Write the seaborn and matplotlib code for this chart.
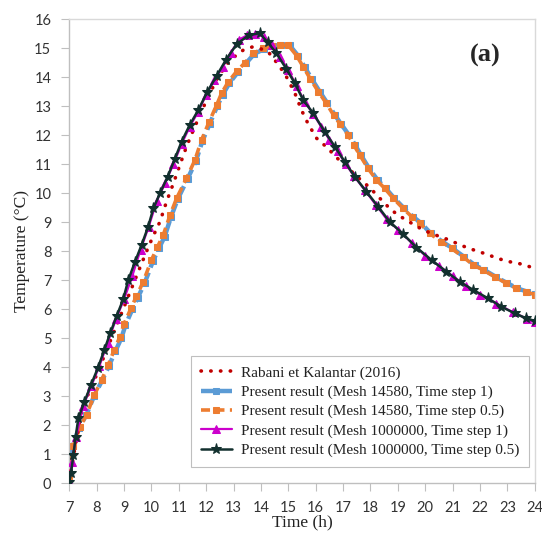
import matplotlib as mpl
mpl.use('agg')
import matplotlib.pyplot as plt
import seaborn as sns

sns.set_style("white")

# Rabani et Kalantar (2016)
t_ref = [7.0, 7.2, 7.45, 7.7, 8.0, 8.3, 8.6, 8.9, 9.2, 9.52, 9.8, 10.05, 10.31, 10.55, 10.8,
         11.04, 11.28, 11.53, 11.77, 12.07, 12.4, 12.75, 13.17, 13.41, 13.7, 14.0, 14.26, 14.45,
         14.7, 14.94, 15.24, 15.48, 15.72, 16.03, 16.39, 16.8, 17.2, 17.6, 17.97, 18.34, 18.7,
         19.0, 19.31, 19.7, 20.2, 20.71, 21.02, 21.32, 21.62, 21.93, 22.23, 22.54, 22.84, 23.08,
         23.39, 23.7, 24.0]
T_ref = [0.1, 1.2, 2.5, 3.1, 3.75, 4.45, 5.15, 5.85, 6.55, 7.3, 7.95, 8.5, 9.02, 9.71, 10.34,
         10.98, 11.61, 12.18, 12.7, 13.33, 13.95, 14.45, 14.83, 14.97, 15.05, 14.98, 14.88, 14.66,
         14.35, 14.0, 13.45, 12.87, 12.4, 11.9, 11.6, 11.2, 10.85, 10.5, 10.2, 9.83, 9.48,
         9.25, 9.08, 8.85, 8.62, 8.45, 8.33, 8.2, 8.1, 7.99, 7.91, 7.79, 7.7, 7.64,
         7.59, 7.5, 7.42]

# Mesh 14580, time step 1
t_m1 = [7.0, 7.02, 7.12, 7.35, 7.62, 7.9, 8.2, 8.45, 8.68, 8.9, 9.05, 9.3, 9.5, 9.75, 10.05,
        10.27, 10.48, 10.72, 10.96, 11.32, 11.62, 11.86, 12.13, 12.4, 12.6, 12.85, 13.15, 13.45,
        13.75, 14.12, 14.45, 14.75, 15.05, 15.35, 15.6, 15.85, 16.15, 16.43, 16.7, 16.92, 17.22,
        17.45, 17.65, 17.95, 18.26, 18.56, 18.87, 19.23, 19.55, 19.85, 20.2, 20.63, 21.0, 21.42,
        21.8, 22.15, 22.58, 23.0, 23.37, 23.72, 24.0]
T_m1 = [0.3, 0.9, 1.3, 1.9, 2.35, 3.0, 3.55, 4.05, 4.55, 5.0, 5.45, 6.0, 6.4, 6.9, 7.65,
        8.1, 8.5, 9.2, 9.8, 10.5, 11.1, 11.8, 12.4, 13.0, 13.4, 13.8, 14.17, 14.48,
        14.8, 14.98, 15.07, 15.12, 15.1, 14.75, 14.35, 13.95, 13.5, 13.1, 12.7, 12.4, 12.0,
        11.65, 11.32, 10.86, 10.46, 10.17, 9.83, 9.48, 9.2, 8.97, 8.62, 8.33, 8.1, 7.81,
        7.53, 7.36, 7.12, 6.9, 6.72, 6.61, 6.52]

# Mesh 14580, time step 0.5
t_m2 = [7.0, 7.03, 7.15, 7.39, 7.63, 7.91, 8.18, 8.42, 8.64, 8.85, 9.0, 9.25, 9.45, 9.7, 10.0,
        10.22, 10.43, 10.68, 10.92, 11.28, 11.59, 11.83, 12.1, 12.38, 12.56, 12.81, 13.11, 13.41,
        13.72, 14.09, 14.4, 14.7, 15.0, 15.3, 15.55, 15.8, 16.1, 16.39, 16.65, 16.88, 17.18,
        17.4, 17.61, 17.91, 18.22, 18.52, 18.83, 19.19, 19.5, 19.8, 20.16, 20.59, 20.96, 21.38,
        21.75, 22.11, 22.54, 22.96, 23.33, 23.69, 24.0]
T_m2 = [0.2, 0.7, 1.3, 1.95, 2.36, 3.04, 3.56, 4.08, 4.6, 5.06, 5.5, 6.03, 6.45, 6.95, 7.7,
        8.15, 8.56, 9.25, 9.83, 10.52, 11.15, 11.84, 12.45, 13.04, 13.45, 13.85, 14.2, 14.5,
        14.83, 15.0, 15.08, 15.12, 15.1, 14.75, 14.35, 13.95, 13.5, 13.1, 12.7, 12.4, 12.01,
        11.65, 11.32, 10.86, 10.46, 10.17, 9.83, 9.48, 9.2, 8.97, 8.62, 8.33, 8.1, 7.81,
        7.53, 7.36, 7.12, 6.9, 6.72, 6.61, 6.5]

# Mesh 1000000, time step 1
t_m3 = [7.0, 7.1, 7.25, 7.5, 7.8, 8.1, 8.4, 8.7, 9.0, 9.3, 9.6, 9.9, 10.2, 10.5, 10.8,
        11.1, 11.4, 11.7, 12.0, 12.3, 12.6, 12.9, 13.2, 13.5, 13.8, 14.1, 14.4, 14.7, 15.0,
        15.3, 15.6, 15.9, 16.2, 16.5, 16.8, 17.1, 17.4, 17.8, 18.2, 18.6, 19.0, 19.5, 20.0,
        20.5, 21.0, 21.5, 22.0, 22.6, 23.2, 23.7, 24.0]
T_m3 = [0.05, 0.75, 1.6, 2.65, 3.35, 4.05, 4.85, 5.65, 6.35, 7.15, 8.05, 8.85, 9.75, 10.35, 11.0,
        11.7, 12.3, 12.8, 13.4, 13.9, 14.35, 14.85, 15.3, 15.45, 15.5, 15.4, 15.1, 14.7, 14.25,
        13.7, 13.15, 12.75, 12.3, 11.85, 11.45, 11.0, 10.6, 10.1, 9.6, 9.1, 8.75, 8.3, 7.85,
        7.5, 7.15, 6.8, 6.5, 6.2, 5.9, 5.68, 5.55]

# Mesh 1000000, time step 0.5
t_m4 = [7.0, 7.06, 7.15, 7.23, 7.33, 7.55, 7.79, 8.04, 8.28, 8.49, 8.73, 8.97, 9.15, 9.4, 9.64,
        9.88, 10.07, 10.31, 10.59, 10.86, 11.1, 11.4, 11.71, 12.04, 12.38, 12.72, 13.12, 13.55,
        13.95, 14.25, 14.55, 14.92, 15.24, 15.54, 15.91, 16.33, 16.7, 17.06, 17.43, 17.85, 18.28,
        18.7, 19.19, 19.68, 20.23, 20.77, 21.26, 21.75, 22.29, 22.78, 23.27, 23.69, 24.0]
T_m4 = [0.05, 0.34, 0.98, 1.6, 2.24, 2.81, 3.39, 3.97, 4.6, 5.17, 5.77, 6.35, 7.0, 7.64, 8.22,
        8.85, 9.48, 10.0, 10.57, 11.2, 11.78, 12.36, 12.87, 13.5, 14.05, 14.6, 15.15, 15.45,
        15.52, 15.2, 14.85, 14.3, 13.79, 13.22, 12.76, 12.12, 11.61, 11.09, 10.57, 10.06, 9.54,
        9.02, 8.6, 8.13, 7.7, 7.3, 6.95, 6.67, 6.38, 6.09, 5.86, 5.69, 5.6]

labels = ["Rabani et Kalantar (2016)",
          "Present result (Mesh 14580, Time step 1)",
          "Present result (Mesh 14580, Time step 0.5)",
          "Present result (Mesh 1000000, Time step 1)",
          "Present result (Mesh 1000000, Time step 0.5)"]

fig = plt.figure(figsize=(5.42, 5.36), dpi=100)
ax = fig.add_axes([0.1279, 0.0983, 0.8587, 0.8657])

# reference: round red dots
sns.lineplot(x=t_ref, y=T_ref, ax=ax, color="#C00000", lw=2.6, linestyle=(0, (0.1, 2.6)),
             dash_capstyle="round", label=labels[0], sort=False, estimator=None, zorder=3)
# coarse mesh
sns.lineplot(x=t_m1, y=T_m1, ax=ax, color="#5B9BD5", lw=3.2, linestyle=(0, (3, 1.2)),
             marker="s", markersize=5, markeredgecolor="#5B9BD5", label=labels[1],
             sort=False, estimator=None, zorder=2)
sns.lineplot(x=t_m2, y=T_m2, ax=ax, color="#ED7D31", lw=2.6, linestyle=(0, (2.5, 1.5)),
             marker="s", markersize=4.5, markeredgecolor="#ED7D31", label=labels[2],
             sort=False, estimator=None, zorder=2.5)
# fine mesh
sns.lineplot(x=t_m3, y=T_m3, ax=ax, color="#CC00CC", lw=1.6, marker="^", markersize=6,
             markeredgecolor="#CC00CC", label=labels[3], sort=False, estimator=None, zorder=4)
sns.lineplot(x=t_m4, y=T_m4, ax=ax, color="#12302E", lw=1.8, marker="*", markersize=8,
             markeredgecolor="#12302E", label=labels[4], sort=False, estimator=None, zorder=5)

ax.set_xlim(7, 24)
ax.set_ylim(0, 16)
ax.set_xticks(range(7, 25))
ax.set_yticks(range(0, 17))
for lab in ax.get_xticklabels() + ax.get_yticklabels():
    lab.set_family("Lato")
    lab.set_fontsize(10.5)
    lab.set_color("#333333")
ax.tick_params(axis="both", direction="out", length=6, width=0.8, color="#BFBFBF", pad=7)
ax.tick_params(axis="y", left=True)
ax.tick_params(axis="x", bottom=True)
for side in ["left", "bottom"]:
    ax.spines[side].set_color("#BFBFBF")
    ax.spines[side].set_linewidth(1.0)
for side in ["top", "right"]:
    ax.spines[side].set_color("#D9D9D9")
    ax.spines[side].set_linewidth(1.0)

ax.set_xlabel("Time (h)", family="Liberation Serif", fontsize=12.5, color="#222222")
ax.set_ylabel("Temperature (\u00b0C)", family="Liberation Serif", fontsize=12.5, color="#222222")
ax.xaxis.set_label_coords(0.5, -0.068)
ax.yaxis.set_label_coords(-0.085, 0.5)

ax.text(0.893, 0.923, "(a)", transform=ax.transAxes, ha="center", va="center",
        family="Liberation Serif", fontweight="bold", fontsize=19)

leg = ax.legend(loc="lower right", bbox_to_anchor=(0.988, 0.035), frameon=True, fancybox=False,
                framealpha=1, edgecolor="#BFBFBF", handlelength=2.0, handletextpad=0.6,
                labelspacing=0.36, borderpad=0.65, borderaxespad=0,
                prop={"family": "Liberation Serif", "size": 11})
leg.get_frame().set_linewidth(0.8)
for txt in leg.get_texts():
    txt.set_color("#222222")

plt.savefig("out.png", dpi=100)
plt.close()
